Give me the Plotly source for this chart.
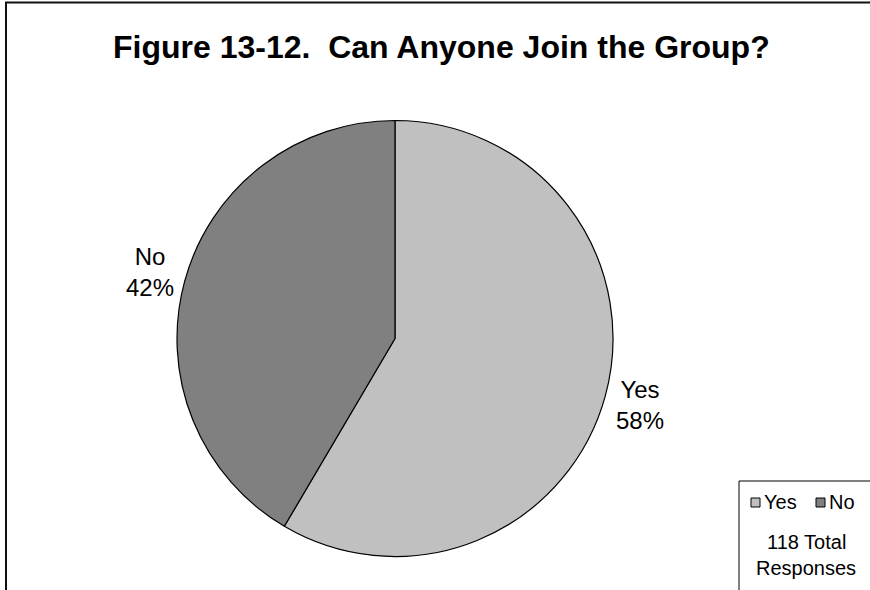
import math
import plotly.graph_objects as go

# Survey responses
labels = ["Yes", "No"]
counts = [69, 49]
colors = ["#C0C0C0", "#808080"]
title_text = "Figure 13-12.  Can Anyone Join the Group?"
note_lines = ["118 Total", "Responses"]

FONT = "Liberation Sans, Arial, sans-serif"
W, H = 870, 590
cx, cy, r = 395, 338.5, 218  # pie centre and radius in pixels


def px(x):
    return x / W


def py(y):
    return 1 - y / H


fig = go.Figure()
fig.add_trace(go.Pie(
    labels=labels,
    values=counts,
    marker=dict(colors=colors, line=dict(color="#000000", width=1.2)),
    sort=False,
    direction="clockwise",
    rotation=0,
    textinfo="none",
    hoverinfo="label+percent",
    showlegend=False,
    domain=dict(x=[px(cx - r), px(cx + r)], y=[py(cy + r), py(cy - r)]),
))

annotations = []
shapes = []

# Slice labels placed outside the pie along each slice's mid-angle
total = sum(counts)
start = 0.0
for lab, val in zip(labels, counts):
    frac = val / total
    mid = (start + frac / 2) * 2 * math.pi
    start += frac
    dist = r * 1.165
    lx = cx + dist * math.sin(mid)
    ly = cy - dist * math.cos(mid)
    annotations.append(dict(
        x=px(lx), y=py(ly), xref="paper", yref="paper",
        text=f"{lab}<br>{round(frac * 100)}%", showarrow=False,
        font=dict(family=FONT, size=24, color="#000"),
        align="center", xanchor="center", yanchor="middle",
    ))

# Title
annotations.append(dict(
    x=px(441.5), y=py(47), xref="paper", yref="paper",
    text=f"<b>{title_text}</b>", showarrow=False,
    font=dict(family=FONT, size=32, color="#000"),
    xanchor="center", yanchor="middle",
))

# Chart frame (top and left edges)
shapes.append(dict(type="line", xref="paper", yref="paper",
                   x0=px(5), x1=px(W + 5), y0=py(2.5), y1=py(2.5),
                   line=dict(color="#111", width=2)))
shapes.append(dict(type="line", xref="paper", yref="paper",
                   x0=px(6), x1=px(6), y0=py(2), y1=py(H + 5),
                   line=dict(color="#111", width=2)))

# Legend box
shapes.append(dict(type="rect", xref="paper", yref="paper",
                   x0=px(739), x1=px(W + 10), y0=py(481), y1=py(H + 10),
                   line=dict(color="#000", width=1), fillcolor="white"))

legend_x = [751, 816]
for lab, col, lx in zip(labels, colors, legend_x):
    shapes.append(dict(type="rect", xref="paper", yref="paper",
                       x0=px(lx), x1=px(lx + 9), y0=py(498), y1=py(507),
                       line=dict(color="#000", width=1), fillcolor=col))
    annotations.append(dict(
        x=px(lx + 11), y=py(502), xref="paper", yref="paper",
        text=lab, showarrow=False,
        font=dict(family=FONT, size=20, color="#000"),
        xanchor="left", yanchor="middle",
    ))

for i, line in enumerate(note_lines):
    annotations.append(dict(
        x=px(806), y=py(542 + i * 26), xref="paper", yref="paper",
        text=line, showarrow=False,
        font=dict(family=FONT, size=20, color="#000"),
        xanchor="center", yanchor="middle",
    ))

fig.update_layout(
    width=W, height=H,
    margin=dict(l=0, r=0, t=0, b=0),
    paper_bgcolor="white",
    plot_bgcolor="white",
    annotations=annotations,
    shapes=shapes,
)

fig.write_html("out.html")
